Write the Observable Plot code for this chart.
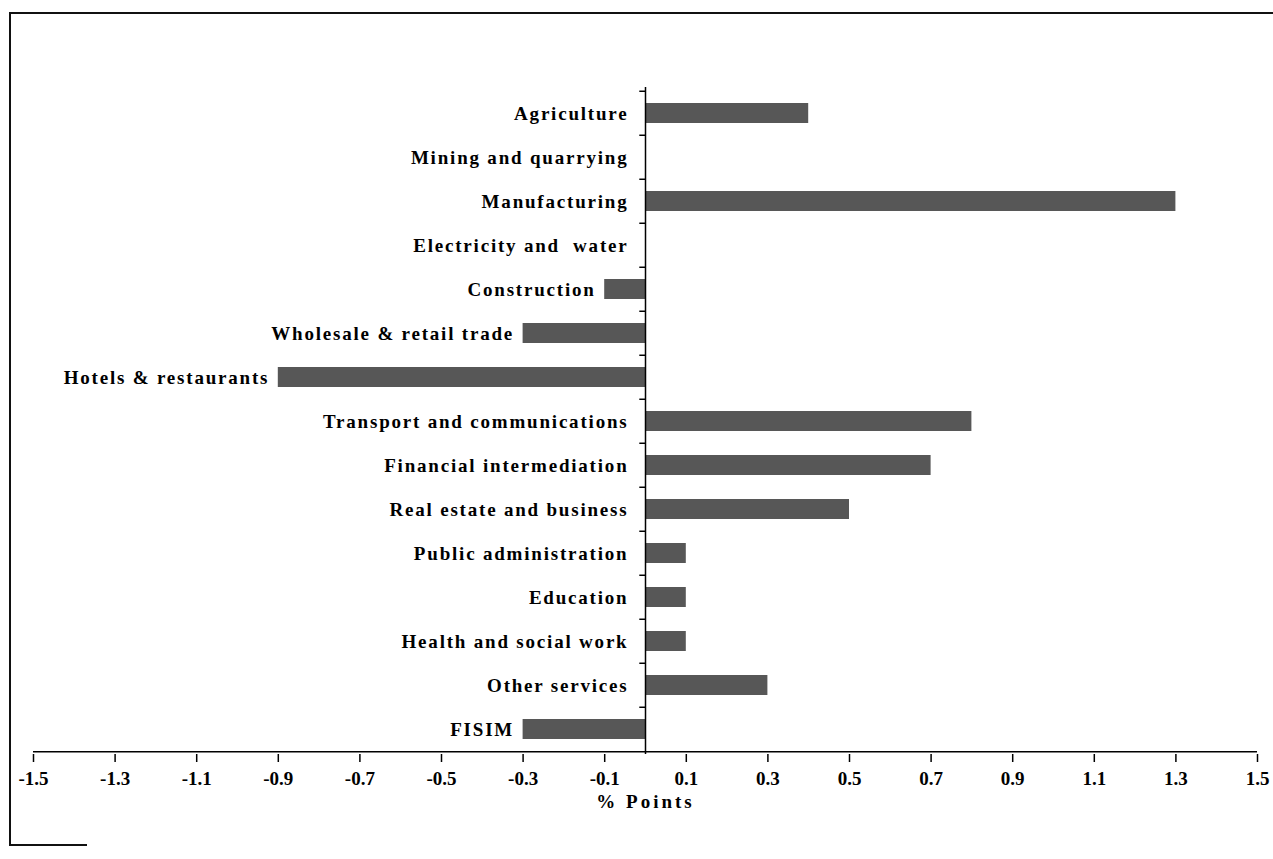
<!DOCTYPE html>
<html>
<head>
<meta charset="utf-8">
<script src="https://cdn.jsdelivr.net/npm/d3@7"></script>
<script src="https://cdn.jsdelivr.net/npm/@observablehq/plot@0.6"></script>
<style>
  html, body { margin: 0; padding: 0; background: #fff; }
  #wrap { position: relative; width: 1273px; height: 859px; overflow: hidden; }
  #chart { position: absolute; left: 0; top: 0; }
  .edge { position: absolute; background: #111; }
  svg text { font-family: "Liberation Serif", "DejaVu Serif", serif; font-weight: bold; fill: #000; }
</style>
</head>
<body>
<div id="wrap">
  <div id="chart"></div>
  <div class="edge" style="left:9px; top:12px; width:1264px; height:2px;"></div>
  <div class="edge" style="left:9px; top:12px; width:2px; height:834px;"></div>
  <div class="edge" style="left:9px; top:844px; width:78px; height:2px;"></div>
</div>
<script>
const sectors = [
  "Agriculture",
  "Mining and quarrying",
  "Manufacturing",
  "Electricity and  water",
  "Construction",
  "Wholesale & retail trade",
  "Hotels & restaurants",
  "Transport and communications",
  "Financial intermediation",
  "Real estate and business",
  "Public administration",
  "Education",
  "Health and social work",
  "Other services",
  "FISIM"
];
const contributions = [0.4, 0, 1.3, 0, -0.1, -0.3, -0.9, 0.8, 0.7, 0.5, 0.1, 0.1, 0.1, 0.3, -0.3];
const xTicks = [-1.5, -1.3, -1.1, -0.9, -0.7, -0.5, -0.3, -0.1, 0.1, 0.3, 0.5, 0.7, 0.9, 1.1, 1.3, 1.5];
const xLabel = "% Points";

const data = sectors.map((s, i) => ({sector: s, value: contributions[i]}));

const W = 1273, H = 859, mT = 87, mB = 105, mL = 33, mR = 16;
const half = (H - mT - mB) / sectors.length / 2;

const chart = Plot.plot({
  width: W,
  height: H,
  marginTop: mT,
  marginBottom: mB,
  marginLeft: mL,
  marginRight: mR,
  style: {background: "#fff", overflow: "visible"},
  x: {domain: [-1.5, 1.5]},
  y: {domain: sectors, paddingInner: 0.55, paddingOuter: 0.275, axis: null},
  marks: [
    Plot.barX(data, {x: "value", y: "sector", fill: "#575757"}),
    Plot.ruleX([0], {stroke: "#000", strokeWidth: 1.5}),
    Plot.ruleY([sectors[sectors.length - 1]], {dy: half, stroke: "#000", strokeWidth: 1.5}),
    Plot.ruleY(sectors, {y: d => d, x1: -0.014, x2: 0, dy: -half, stroke: "#000", strokeWidth: 1.5}),
    Plot.text(data.filter(d => d.value >= 0), {y: "sector", x: 0, dx: -17, text: "sector", textAnchor: "end",
      fontSize: 19, fontWeight: "bold"}),
    Plot.text(data.filter(d => d.value < 0), {y: "sector", x: "value", dx: -9, text: "sector", textAnchor: "end",
      fontSize: 19, fontWeight: "bold"}),
    Plot.axisX({ticks: xTicks, tickSize: 8, tickPadding: 9, fontSize: 19,
      tickFormat: d => d.toFixed(1), label: null, stroke: "#000", strokeWidth: 1.5}),
    Plot.text([xLabel], {x: 0, frameAnchor: "bottom", dy: 53, text: d => d, fontSize: 19,
      fontWeight: "bold"})
  ]
});
// widen the spacing of the category labels and the axis title like the scanned original
const textGroups = chart.querySelectorAll('g[aria-label="text"]');
textGroups.forEach((g, i) => {
  g.querySelectorAll("text").forEach(t => {
    t.style.letterSpacing = (i === textGroups.length - 1) ? "3px" : "1.8px";
  });
});
document.getElementById("chart").appendChild(chart);
</script>
</body>
</html>
